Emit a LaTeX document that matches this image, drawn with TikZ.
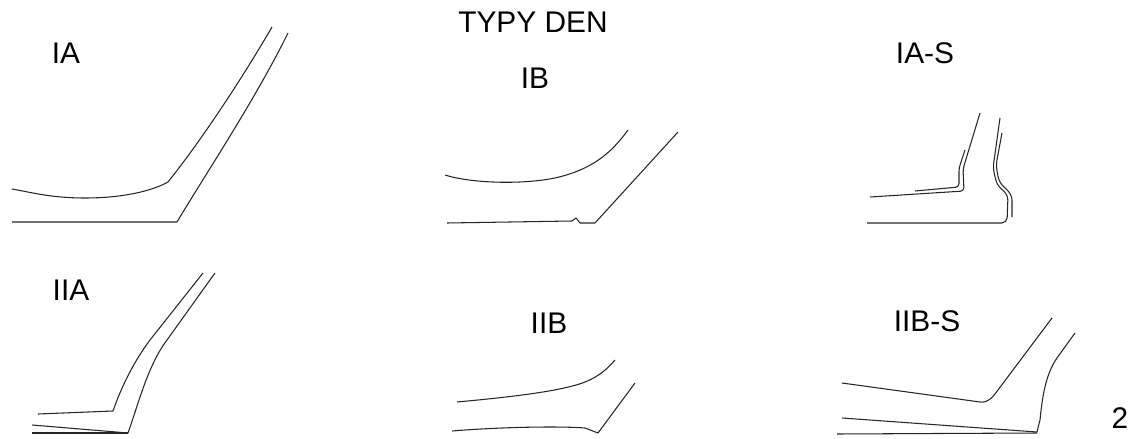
\documentclass[tikz,border=0pt]{standalone}
\usepackage{fontspec}
\setmainfont{Liberation Sans}
\usepackage{tikz}

\begin{document}
\begin{tikzpicture}[x=0.02cm, y=-0.02cm,
    lbl/.style={font=\fontsize{17}{20}\selectfont, inner sep=0pt},
    prof/.style={line width=0.6pt, black!85, line join=round}]
  \useasboundingbox (0,0) rectangle (1142,439);

  % Titles
  \node[lbl] (title) at (533,22) {TYPY DEN};
  \node[lbl] (tIA)   at (66,53)   {IA};
  \node[lbl] (tIB)   at (535,78)  {IB};
  \node[lbl] (tIAS)  at (925,53)  {IA-S};
  \node[lbl] (tIIA)  at (71,290)  {IIA};
  \node[lbl] (tIIB)  at (549,323) {IIB};
  \node[lbl] (tIIBS) at (927,321) {IIB-S};
  \node[lbl] (num)   at (1120,418) {2};

  % IA
  \draw[prof] (12,189) .. controls (30,192) and (50,198) .. (85,198)
    .. controls (120,198) and (150,192) .. (168,182)
    .. controls (200,142) and (240,82) .. (272,27);
  \draw[prof] (12,222) -- (177,222)
    .. controls (205,175) and (255,100) .. (288,33);

  % IB
  \draw[prof] (445,175) .. controls (470,183) and (520,185) .. (555,178)
    .. controls (590,170) and (610,155) .. (628,130);
  \draw[prof] (447,223) -- (572,221) -- (576,218) -- (580,223)
    -- (595,223) -- (678,132);

  % IA-S
  \draw[prof, rounded corners=2pt] (870,197) -- (964,191) -- (963,169) -- (980,113);
  \draw[prof, rounded corners=2pt] (915,191) -- (959,187) -- (959,168) -- (965,150);
  \draw[prof, rounded corners=3pt] (867,223) -- (1007,223) -- (1008,195)
    -- (997,185) -- (993,168) -- (1000,118);
  \draw[prof, rounded corners=3pt] (1012,217) -- (1012,195)
    -- (999,182) -- (996,165) -- (1002,133);

  % IIA
  \draw[prof] (38,414) -- (113,411)
    .. controls (122,385) and (135,360) .. (150,340) -- (203,273);
  \draw[prof] (32,425) -- (128,433)
    .. controls (138,405) and (148,365) .. (167,340) -- (215,273);
  \draw[prof] (32,433) -- (128,433);

  % IIB
  \draw[prof] (457,402) .. controls (500,398) and (560,392) .. (585,382)
    .. controls (600,376) and (608,368) .. (615,360);
  \draw[prof] (452,431) .. controls (500,427) and (560,426) .. (585,428)
    -- (598,433) -- (635,383);

  % IIB-S
  \draw[prof] (842,383) -- (980,402)
    .. controls (988,403) and (992,398) .. (998,390) -- (1052,318);
  \draw[prof] (842,418) -- (1037,432) -- (1040,420)
    .. controls (1042,400) and (1045,375) .. (1057,358) -- (1075,333);
  \draw[prof] (837,434) -- (1037,433);
\end{tikzpicture}
\end{document}
